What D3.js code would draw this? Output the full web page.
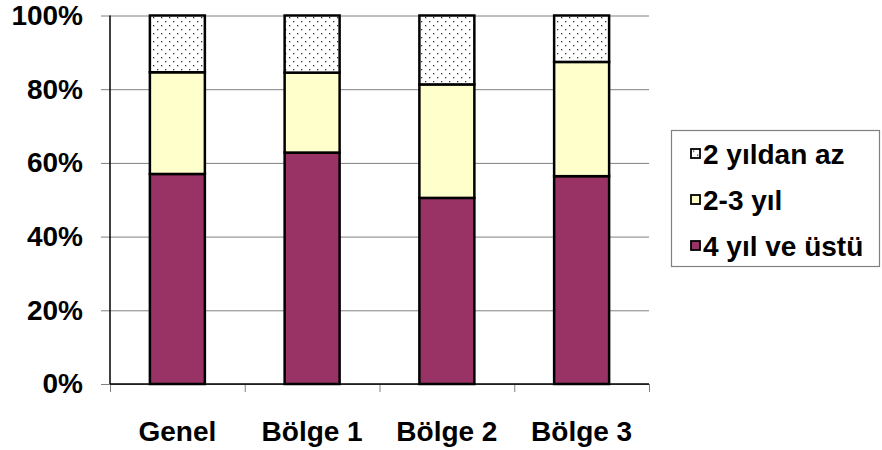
<!DOCTYPE html>
<html>
<head>
<meta charset="utf-8">
<script src="https://cdn.jsdelivr.net/npm/d3@7"></script>
<style>
  html, body { margin: 0; padding: 0; background: #fff; }
  svg { display: block; font-family: "Liberation Sans", Arial, sans-serif; }
</style>
</head>
<body>
<svg id="chart" width="882" height="450"></svg>
<script>
// Kategoriler ve seri değerleri (yüzde)
const categories = ["Genel", "Bölge 1", "Bölge 2", "Bölge 3"];
const seriesNames = ["4 yıl ve üstü", "2-3 yıl", "2 yıldan az"];
const over4 = [57.0, 62.8, 50.5, 56.4];
const years23 = [27.6, 21.7, 30.8, 31.0];
const under2 = [15.4, 15.5, 18.7, 12.6];
const yTicks = [0, 20, 40, 60, 80, 100];
const legendOrder = ["2 yıldan az", "2-3 yıl", "4 yıl ve üstü"];

const fills = {
  "4 yıl ve üstü": "#993366",
  "2-3 yıl": "#FFFFCC",
  "2 yıldan az": "url(#dots)"
};

const rows = categories.map((c, i) => ({
  cat: c,
  "4 yıl ve üstü": over4[i],
  "2-3 yıl": years23[i],
  "2 yıldan az": under2[i]
}));

const svg = d3.select("#chart");
const plotLeft = 110, plotRight = 649, plotTop = 15.5, plotBottom = 384;

// Noktalı desen
const defs = svg.append("defs");
const pat = defs.append("pattern")
  .attr("id", "dots").attr("patternUnits", "userSpaceOnUse")
  .attr("width", 8).attr("height", 8);
pat.append("rect").attr("width", 8).attr("height", 8).attr("fill", "#fff");
pat.append("rect").attr("x", 1).attr("y", 1).attr("width", 1.3).attr("height", 1.3).attr("fill", "#333");
pat.append("rect").attr("x", 5).attr("y", 5).attr("width", 1.3).attr("height", 1.3).attr("fill", "#333");

const x = d3.scaleBand().domain(categories).range([plotLeft, plotRight]);
const y = d3.scaleLinear().domain([0, 100]).range([plotBottom, plotTop]);
const barW = x.bandwidth() * 0.408;

// Yatay kılavuz çizgileri
svg.append("g")
  .attr("transform", `translate(${plotLeft},0)`)
  .call(d3.axisLeft(y).tickValues(yTicks).tickSize(-(plotRight - plotLeft)).tickFormat(""))
  .call(g => g.select(".domain").remove())
  .call(g => g.selectAll("line").attr("stroke", "#808080").attr("stroke-width", 1));

// Y ekseni
svg.append("g")
  .attr("transform", `translate(${plotLeft},0)`)
  .call(d3.axisLeft(y).tickValues(yTicks).tickSize(9).tickPadding(18).tickFormat(d => d + "%"))
  .call(g => g.select(".domain").remove())
  .call(g => g.selectAll("line").attr("stroke", "#808080"))
  .call(g => g.selectAll("text")
    .attr("font-size", 28).attr("font-weight", "bold").attr("fill", "#000")
    .attr("font-family", "Liberation Sans, Arial, sans-serif"));

// Yığılmış sütunlar
const stack = d3.stack().keys(seriesNames);
const layers = stack(rows);

svg.append("g").selectAll("g")
  .data(layers)
  .join("g")
  .attr("fill", d => fills[d.key])
  .selectAll("rect")
  .data(d => d)
  .join("rect")
  .attr("x", d => x(d.data.cat) + x.bandwidth() / 2 - barW / 2)
  .attr("y", d => y(d[1]))
  .attr("width", barW)
  .attr("height", d => y(d[0]) - y(d[1]))
  .attr("stroke", "#000")
  .attr("stroke-width", 2.5);

// X ekseni: kategori sınırlarında çentikler
const edges = d3.scaleLinear().domain([0, categories.length]).range([plotLeft, plotRight]);
svg.append("g")
  .attr("transform", `translate(0,${plotBottom})`)
  .call(d3.axisBottom(edges).tickValues(d3.range(categories.length + 1)).tickSize(8).tickFormat(""))
  .call(g => g.select(".domain").remove())
  .call(g => g.selectAll("line").attr("stroke", "#808080"));

svg.append("g")
  .attr("transform", `translate(0,${plotBottom})`)
  .call(d3.axisBottom(x).tickSize(0).tickPadding(37))
  .call(g => g.select(".domain").remove())
  .call(g => g.selectAll("text")
    .attr("font-size", 28).attr("font-weight", "bold").attr("fill", "#000")
    .attr("font-family", "Liberation Sans, Arial, sans-serif"));

// Eksen çizgileri
svg.append("line").attr("x1", plotLeft).attr("x2", plotLeft).attr("y1", plotTop).attr("y2", plotBottom)
  .attr("stroke", "#000").attr("stroke-width", 1.5);
svg.append("line").attr("x1", plotLeft).attr("x2", plotRight).attr("y1", plotBottom).attr("y2", plotBottom)
  .attr("stroke", "#000").attr("stroke-width", 1.5);

// Açıklama kutusu
const legend = svg.append("g");
legend.append("rect")
  .attr("x", 671.5).attr("y", 130.5).attr("width", 208).attr("height", 136)
  .attr("fill", "#fff").attr("stroke", "#808080").attr("stroke-width", 1.2);

const ly = d3.scalePoint().domain(legendOrder).range([153.5, 245.5]);
const items = legend.selectAll("g.item").data(legendOrder).join("g")
  .attr("class", "item")
  .attr("transform", d => `translate(0,${ly(d)})`);
items.append("rect")
  .attr("x", 691).attr("y", -4.5).attr("width", 9).attr("height", 9)
  .attr("fill", d => fills[d]).attr("stroke", "#000").attr("stroke-width", 1.8);
items.append("text")
  .attr("x", 703).attr("y", 0).attr("dy", "0.36em")
  .attr("font-size", 28).attr("font-weight", "bold").attr("fill", "#000")
  .text(d => d);
</script>
</body>
</html>
